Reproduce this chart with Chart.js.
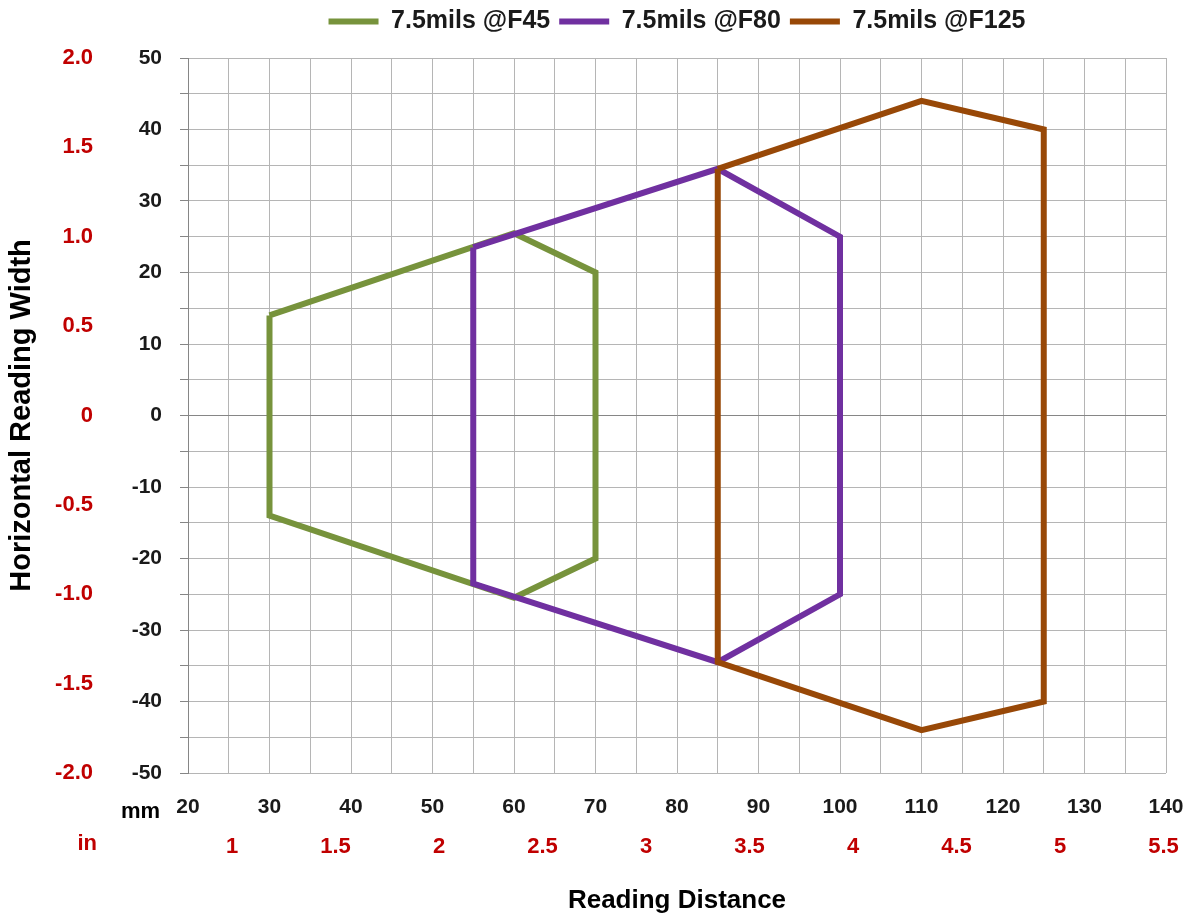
<!DOCTYPE html>
<html>
<head>
<meta charset="utf-8">
<script src="https://cdn.jsdelivr.net/npm/chart.js@4/dist/chart.umd.min.js"></script>
<style>
  html, body { margin: 0; padding: 0; background: #fff; }
  #wrap { width: 1193px; height: 922px; position: relative; }
</style>
</head>
<body>
<div id="wrap"><canvas id="zoneChart"></canvas></div>
<script>
// Données (distance en mm, largeur en mm)
const seriesNames = ["7.5mils @F45", "7.5mils @F80", "7.5mils @F125"];
const seriesColors = ["#77933C", "#7030A0", "#984807"];

const f45X = [30, 60, 70, 70, 60, 30, 30];
const f45Y = [14, 25.5, 20, -20, -25.5, -14, 14];

const f80X = [55, 85, 100, 100, 85, 55, 55];
const f80Y = [23.5, 34.5, 25, -25, -34.5, -23.5, 23.5];

const f125X = [85, 110, 125, 125, 110, 85, 85];
const f125Y = [34.5, 44, 40, -40, -44, -34.5, 34.5];

// Graduations secondaires (pouces)
const inchTicks = [1, 1.5, 2, 2.5, 3, 3.5, 4, 4.5, 5, 5.5];
const widthInchTicks = [-2, -1.5, -1, -0.5, 0, 0.5, 1, 1.5, 2];

const mmMin = 20, mmMax = 140;
const widthMin = -50, widthMax = 50;

const RED = "#C00000";
const GRID = "#b5b5b5";
const AXIS = "#868686";
const FONT = "'Liberation Sans', Arial, sans-serif";

function points(xs, ys) {
  return xs.map((x, i) => ({ x: x, y: ys[i] }));
}

Chart.defaults.font.family = FONT;
Chart.defaults.font.weight = "bold";

// Libellés "mm" / "in" + un peu plus de place sous la légende
const unitLabels = {
  id: "unitLabels",
  beforeInit(chart) {
    const fit = chart.legend.fit;
    chart.legend.fit = function () {
      fit.call(this);
      this.height += 14;
    };
  },
  afterDraw(chart) {
    const c = chart.ctx;
    const area = chart.chartArea;
    c.save();
    c.font = "bold 22px " + FONT;
    c.textAlign = "right";
    c.textBaseline = "middle";
    c.fillStyle = "#000";
    c.fillText("mm", area.left - 28, area.bottom + 39);
    c.fillStyle = RED;
    c.fillText("in", area.left - 91, chart.scales.xin.top + 24);
    c.restore();
  }
};

const ctx = document.getElementById("zoneChart").getContext("2d");
new Chart(ctx, {
  type: "scatter",
  data: {
    datasets: [
      { label: seriesNames[0], data: points(f45X, f45Y), borderColor: seriesColors[0], backgroundColor: seriesColors[0], order: 3 },
      { label: seriesNames[1], data: points(f80X, f80Y), borderColor: seriesColors[1], backgroundColor: seriesColors[1], order: 2 },
      { label: seriesNames[2], data: points(f125X, f125Y), borderColor: seriesColors[2], backgroundColor: seriesColors[2], order: 1 }
    ].map(ds => Object.assign(ds, {
      showLine: true,
      fill: false,
      tension: 0,
      borderWidth: 6,
      pointRadius: 0,
      pointHoverRadius: 0
    }))
  },
  options: {
    responsive: true,
    maintainAspectRatio: false,
    animation: false,
    layout: { padding: { top: 0, right: 27, bottom: 0, left: 0 } },
    plugins: {
      tooltip: { enabled: false },
      legend: {
        position: "top",
        fullSize: false,
        labels: {
          usePointStyle: true,
          pointStyle: "line",
          pointStyleWidth: 50,
          padding: 9,
          color: "#1a1a1a",
          font: { size: 25, weight: "bold" },
          sort: (a, b) => a.datasetIndex - b.datasetIndex
        }
      }
    },
    scales: {
      x: {
        type: "linear",
        position: "bottom",
        weight: 0,
        min: mmMin,
        max: mmMax,
        afterFit: scale => {
          scale.height = 47;
          scale.paddingLeft = 0;
          scale.paddingRight = 0;
        },
        border: { display: false },
        grid: { color: GRID, lineWidth: 1, drawTicks: false },
        ticks: {
          stepSize: 5,
          padding: 22,
          color: "#1a1a1a",
          font: { size: 21, weight: "bold" },
          maxRotation: 0,
          autoSkip: false,
          callback: v => (v % 10 === 0 ? String(v) : "")
        }
      },
      xin: {
        type: "linear",
        position: "bottom",
        weight: 1,
        min: mmMin / 25.4,
        max: mmMax / 25.4,
        afterBuildTicks: scale => { scale.ticks = inchTicks.map(v => ({ value: v })); },
        afterFit: scale => {
          scale.height = 102;
          scale.paddingLeft = 0;
          scale.paddingRight = 0;
        },
        border: { display: false },
        grid: { display: false },
        ticks: {
          padding: 6,
          color: RED,
          font: { size: 22, weight: "bold" },
          maxRotation: 0,
          autoSkip: false,
          callback: v => String(v)
        },
        title: {
          display: true,
          text: "Reading Distance",
          color: "#000",
          font: { size: 26, weight: "bold" },
          padding: { top: 27, bottom: 6 }
        }
      },
      y: {
        type: "linear",
        position: "left",
        weight: 0,
        min: widthMin,
        max: widthMax,
        afterFit: scale => { scale.width = 76; },
        border: { display: true, color: AXIS, width: 1 },
        grid: {
          color: c => (c.tick && c.tick.value === 0 ? AXIS : GRID),
          lineWidth: 1,
          drawTicks: true,
          tickLength: 8,
          tickColor: AXIS
        },
        ticks: {
          stepSize: 5,
          padding: 18,
          color: "#1a1a1a",
          font: { size: 21, weight: "bold" },
          autoSkip: false,
          callback: v => (v % 10 === 0 ? String(v) : "")
        }
      },
      yin: {
        type: "linear",
        position: "left",
        weight: 1,
        min: -2,
        max: 2,
        afterFit: scale => { scale.width = 112; },
        afterBuildTicks: scale => { scale.ticks = widthInchTicks.map(v => ({ value: v })); },
        border: { display: false },
        grid: { display: false },
        ticks: {
          padding: 11,
          color: RED,
          font: { size: 22, weight: "bold" },
          autoSkip: false,
          callback: v => (v === 0 ? "0" : v.toFixed(1))
        },
        title: {
          display: true,
          text: "Horizontal Reading Width",
          color: "#000",
          font: { size: 29, weight: "bold" },
          padding: { top: 5, bottom: 0 }
        }
      }
    }
  },
  plugins: [unitLabels]
});
</script>
</body>
</html>
